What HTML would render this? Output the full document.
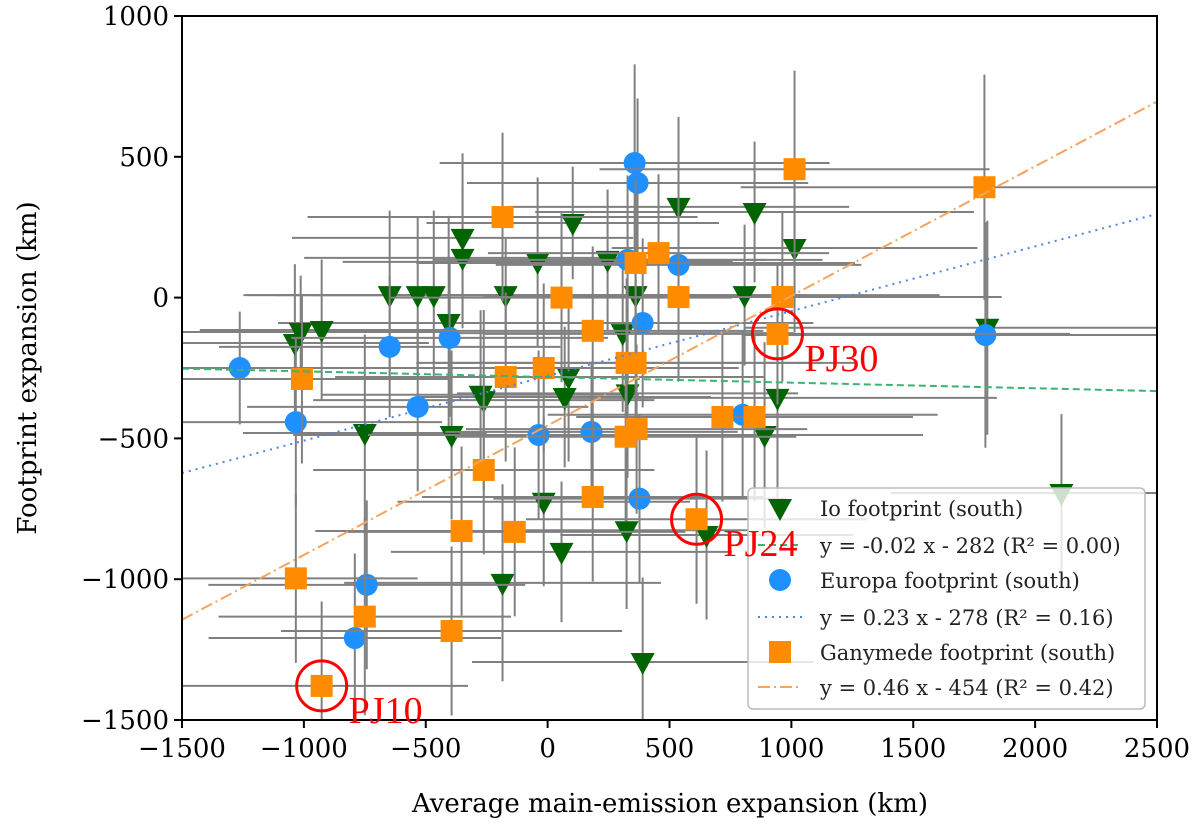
<!DOCTYPE html>
<html><head><meta charset="utf-8">
<style>
html,body{margin:0;padding:0;background:#fff;}
svg{display:block;font-family:"DejaVu Serif","Liberation Serif",serif;}
</style></head>
<body>
<svg id="chart" width="1200" height="828" viewBox="0 0 1200 828" xmlns="http://www.w3.org/2000/svg">
<defs><clipPath id="plotclip"><rect x="182" y="16" width="975" height="704"/></clipPath></defs>
<g id="plot" clip-path="url(#plotclip)"></g>
<g id="axes"></g>
<text x="670" y="812" font-size="26" text-anchor="middle" fill="#000">Average main-emission expansion (km)</text>
<text transform="translate(36,368) rotate(-90)" font-size="26" text-anchor="middle" fill="#000">Footprint expansion (km)</text>
<g id="legend"></g>
<g id="annot"></g>
</svg>
<script>
// ---- data ----
const xTicks = [-1500,-1000,-500,0,500,1000,1500,2000,2500];
const yTicks = [1000,500,0,-500,-1000,-1500];

const ioX = [-349,-349,-41,103,537,849,1013,246,-648,-533,-467,-172,361,808,-406,-1013,-927,-1037,-275,-262,86,70,328,-750,-394,308,943,890,-16,57,-185,324,652,390,1804,2108];
const ioY = [212,141,127,265,322,304,176,134,9,9,9,9,9,9,-90,-122,-115,-161,-345,-364,-282,-353,-340,-481,-488,-126,-356,-488,-725,-903,-1013,-826,-843,-1294,-107,-694];
const ioXerr = [700,650,800,600,700,900,750,650,600,700,650,800,700,800,700,600,500,550,650,700,800,600,700,500,650,700,900,650,600,700,650,500,600,700,1000,700];
const ioYerr = [300,250,300,200,320,250,300,250,300,280,300,200,300,250,380,200,250,280,300,320,300,250,300,350,300,280,400,330,300,250,350,280,300,300,380,280];

const euX = [-1263,-1033,-648,-402,-533,-37,180,357,369,328,537,390,800,377,-742,-791,1796];
const euY = [-250,-442,-175,-143,-388,-488,-477,478,407,134,116,-90,-416,-714,-1020,-1209,-133];
const euXerr = [800,600,700,650,700,700,600,800,700,800,750,700,800,600,650,600,1000];
const euYerr = [200,300,250,280,300,300,250,350,300,300,250,300,300,300,300,300,400];

const gaX = [-185,455,361,1013,1792,57,537,963,943,185,-1008,-16,-172,361,324,365,320,717,849,-262,-353,-135,-1033,-750,-394,-927,185,611];
const gaY = [286,158,123,456,392,0,2,2,-129,-118,-289,-250,-282,-232,-232,-467,-494,-424,-424,-612,-829,-832,-997,-1133,-1184,-1379,-708,-787];
const gaXerr = [800,700,900,800,1000,700,800,900,1200,700,600,800,700,900,800,700,700,600,650,700,600,700,500,600,700,600,700,700];
const gaYerr = [300,280,300,350,400,300,300,300,250,300,300,300,300,300,300,300,300,300,300,300,300,300,300,350,300,300,300,300];

const fitSlopes = [-0.02,0.23,0.46];
const fitIntercepts = [-282,-278,-454];

const highlightX = [943,611,-927];
const highlightY = [-129,-787,-1379];
const highlightLabels = ["PJ30","PJ24","PJ10"];

// ---- scales ----
const X0=182,X1=1157,Y0=720,Y1=16;
const xmin=-1500,xmax=2500,ymin=-1500,ymax=1000;
function sx(v){return X0+(v-xmin)/(xmax-xmin)*(X1-X0);}
function sy(v){return Y0-(v-ymin)/(ymax-ymin)*(Y0-Y1);}
const NS="http://www.w3.org/2000/svg";
function mk(tag,attrs,parent){const e=document.createElementNS(NS,tag);for(const k in attrs)e.setAttribute(k,attrs[k]);parent.appendChild(e);return e;}

const plot=document.getElementById('plot');
const axes=document.getElementById('axes');
const annot=document.getElementById('annot');
const legend=document.getElementById('legend');

function errorbars(xs,ys,xe,ye,name){
  for(let i=0;i<xs.length;i++){
    const h=mk('line',{x1:sx(xs[i]-xe[i]),x2:sx(xs[i]+xe[i]),y1:sy(ys[i]),y2:sy(ys[i]),stroke:'#808080','stroke-width':2},plot);
    
    
    const v=mk('line',{x1:sx(xs[i]),x2:sx(xs[i]),y1:sy(ys[i]-ye[i]),y2:sy(ys[i]+ye[i]),stroke:'#808080','stroke-width':2},plot);
    
    
  }
}
function triangle(cx,cy,parent){return mk('polygon',{points:`${cx-12},${cy-9} ${cx+12},${cy-9} ${cx},${cy+13}`,fill:'#006400'},parent);}
function circle(cx,cy,parent){return mk('circle',{cx:cx,cy:cy,r:11,fill:'#1e90ff'},parent);}
function square(cx,cy,parent){return mk('rect',{x:cx-11,y:cy-11,width:22,height:22,fill:'#ff8c00'},parent);}

errorbars(ioX,ioY,ioXerr,ioYerr,'io');
for(let i=0;i<ioX.length;i++){
  const t=triangle(sx(ioX[i]),sy(ioY[i]),plot);
  
  
}
errorbars(euX,euY,euXerr,euYerr,'europa');
for(let i=0;i<euX.length;i++){
  const c=circle(sx(euX[i]),sy(euY[i]),plot);
  
  
}
errorbars(gaX,gaY,gaXerr,gaYerr,'ganymede');
for(let i=0;i<gaX.length;i++){
  const s=square(sx(gaX[i]),sy(gaY[i]),plot);
  
  
}
const fitStyles=[{stroke:'#3cb371',dash:'7,4'},{stroke:'#4a86e8',dash:'2,5'},{stroke:'#f4a460',dash:'12,4,2,4'}];
const fitNames=['io-fit-line','europa-fit-line','ganymede-fit-line'];
for(let k=0;k<3;k++){
  const l=mk('line',{x1:sx(xmin),y1:sy(fitSlopes[k]*xmin+fitIntercepts[k]),x2:sx(xmax),y2:sy(fitSlopes[k]*xmax+fitIntercepts[k]),stroke:fitStyles[k].stroke,'stroke-width':2,'stroke-dasharray':fitStyles[k].dash},plot);
  
  
}
// highlight circles
for(let k=0;k<highlightX.length;k++){
  const cx=sx(highlightX[k]),cy=sy(highlightY[k]);
  const c=mk('circle',{cx:cx,cy:cy,r:25,fill:'none',stroke:'#ff0000','stroke-width':3},annot);
  
  
  const t=mk('text',{x:cx+27,y:cy+37,'font-size':38,fill:'#ff0000','font-family':'"Liberation Serif",serif'},annot);
  t.textContent=highlightLabels[k];
  
  
}
// axes frame
const frame=mk('rect',{x:X0,y:Y1,width:X1-X0,height:Y0-Y1,fill:'none',stroke:'#000','stroke-width':2},axes);


for(const v of xTicks){
  const x=sx(v);
  const tk=mk('line',{x1:x,x2:x,y1:Y0,y2:Y0+8,stroke:'#000','stroke-width':2},axes);
  
  
  const t=mk('text',{x:x,y:Y0+37,'font-size':26,'text-anchor':'middle',fill:'#000'},axes);
  t.textContent=(v<0?'\u2212'+(-v):String(v));
  
  
}
for(const v of yTicks){
  const y=sy(v);
  const tk=mk('line',{x1:X0-8,x2:X0,y1:y,y2:y,stroke:'#000','stroke-width':2},axes);
  
  
  const t=mk('text',{x:X0-13,y:y+9,'font-size':26,'text-anchor':'end',fill:'#000'},axes);
  t.textContent=(v<0?'\u2212'+(-v):String(v));
  
  
}
// legend
const lb=mk('rect',{x:748,y:488,width:397,height:221,rx:5,fill:'#fff','fill-opacity':0.8,stroke:'#bbbbbb','stroke-width':1.5},legend);


const legendTexts=['Io footprint (south)','y = -0.02 x - 282 (R\u00b2 = 0.00)','Europa footprint (south)','y = 0.23 x - 278 (R\u00b2 = 0.16)','Ganymede footprint (south)','y = 0.46 x - 454 (R\u00b2 = 0.42)'];
const rowY=[508,545,580,617,652,687];
for(let i=0;i<6;i++){
  const y=rowY[i];
  let m;
  if(i===0) m=triangle(780,y,legend);
  else if(i===2) m=circle(780,y,legend);
  else if(i===4) m=square(780,y,legend);
  else { const s=fitStyles[(i-1)/2]; m=mk('line',{x1:758,x2:802,y1:y,y2:y,stroke:s.stroke,'stroke-width':2,'stroke-dasharray':s.dash},legend); }
  
  
  const t=mk('text',{x:820,y:y+8,'font-size':21,fill:'#222'},legend);
  t.textContent=legendTexts[i];
  
  
}
</script>
</body></html>
